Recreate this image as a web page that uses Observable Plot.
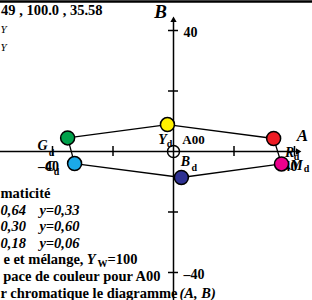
<!DOCTYPE html>
<html><head><meta charset="utf-8">
<script src="https://cdn.jsdelivr.net/npm/d3@7"></script>
<script src="https://cdn.jsdelivr.net/npm/@observablehq/plot@0.6"></script>
<style>body{margin:0;background:#fff;} svg{display:block} svg text{font-family:"Liberation Serif","Times New Roman","DejaVu Serif",serif !important;}</style>
</head><body><div id="chart"></div>
<script>
// ---- data ----
const names = ["G", "Y", "R", "M", "B", "C"];
const subs = ["d", "d", "d", "d", "d", "d"];
const aValues = [-35.0, -2.0, 33.1, 35.7, 2.6, -32.7];
const bValues = [4.5, 8.9, 4.3, -4.1, -8.6, -4.0];
const colors = ["#00a14b", "#fff000", "#ed1c24", "#ec008c", "#2e3192", "#1ba9e8"];
const axisTicks = [-40, -20, 20, 40];
const labeledTicks = [-40, 40];
const tickText = ["–40", "40"];
const originName = "A00";
const headerText = "49 , 100.0 , 35.58";
const headerY = ["Y", "Y"];
const chromaTitle = "maticité";
const xRows = ["0,64", "0,30", "0,18"];
const yRows = ["y=0,33", "y=0,60", "y=0,06"];
const mixText = "e et mélange,";
const spaceText = "pace de couleur pour A00";
const diagText = "r chromatique le diagramme";
const diagVars = "(A, B)";

// ---- layout ----
const W = 312, H = 300;
const xDom = [-57.19, 45.95], yDom = [-49.26, 49.92];
const aTip = 42.6, bTip = 44.96;
const idx = d3.range(names.length);
const font = "Liberation Serif";
const FS = 14.5;
const offsets = [
  {m: [-25, 7.5], s: [-16, 14.5]},
  {m: [-5, 15], s: [2, 19]},
  {m: [16, 14], s: [23, 18]},
  {m: [15, 2], s: [25, 5]},
  {m: [4, -16], s: [13, -10]},
  {m: [-25, 3], s: [-18, 8]}
];
const T = (o) => Object.assign({fontFamily: font, fontWeight: "bold", fontSize: 14, fill: "black"}, o);

const marks = [
  Plot.ruleY([yDom[1]], {stroke: "black", strokeWidth: 2.5, dy: 1}),
  Plot.ruleY([0], {x1: xDom[0], x2: aTip - 2, stroke: "black", strokeWidth: 1.5}),
  Plot.ruleX([0], {y1: yDom[0], y2: bTip - 2, stroke: "black", strokeWidth: 1.5}),
  Plot.dot([0], {x: aTip - 1.52, y: 0, symbol: "triangle2", r: 3, fill: "black", rotate: 90}),
  Plot.dot([0], {x: 0, y: bTip - 1.52, symbol: "triangle2", r: 3, fill: "black"}),
  Plot.ruleX(axisTicks, {x: d => d, y1: 0, y2: 0, insetTop: -5, insetBottom: -5, stroke: "black", strokeWidth: 1.5}),
  Plot.ruleY(axisTicks, {y: d => d, x1: 0, x2: 0, insetLeft: -5, insetRight: -5, stroke: "black", strokeWidth: 1.5}),
  Plot.text(labeledTicks, T({x: d => d, y: 0, text: (d, i) => tickText[i], dx: -4, dy: 15})),
  Plot.text(labeledTicks, T({x: 0, y: d => d, text: (d, i) => tickText[i], textAnchor: "start", dx: 10, dy: 2.5})),
  Plot.text(["B"], T({x: 0, y: bTip, text: d => d, fontStyle: "italic", fontSize: 19, dx: -13, dy: -4})),
  Plot.text(["A"], T({x: aTip, y: 0, text: d => d, fontStyle: "italic", fontSize: 17, dx: 0, dy: -16})),
  Plot.line(idx, {x: i => aValues[i], y: i => bValues[i], curve: "linear-closed", stroke: "black", strokeWidth: 1.3}),
  Plot.dot(idx, {x: i => aValues[i], y: i => bValues[i], r: 7, fill: i => colors[i], stroke: "black", strokeWidth: 1.5}),
  Plot.dot([0], {x: 0, y: 0, r: 6, fill: "none", stroke: "black", strokeWidth: 1.5}),
  Plot.text([originName], T({x: 0, y: 0, text: d => d, fontSize: 13, dx: 20, dy: -11.5})),
];
idx.forEach(i => {
  marks.push(Plot.text([names[i]], T({x: () => aValues[i], y: () => bValues[i], text: d => d, fontStyle: "italic", fontSize: 14, dx: offsets[i].m[0], dy: offsets[i].m[1]})));
  marks.push(Plot.text([subs[i]], T({x: () => aValues[i], y: () => bValues[i], text: d => d, fontSize: 10, dx: offsets[i].s[0], dy: offsets[i].s[1]})));
});
const FA = {frameAnchor: "top-left", lineAnchor: "bottom", fontSize: FS};
marks.push(Plot.text([headerText], T({...FA, text: d => d, textAnchor: "end", dx: 102, dy: 14})));
headerY.forEach((t, i) => {
  marks.push(Plot.text([t], T({...FA, text: d => d, textAnchor: "start", fontWeight: "normal", fontStyle: "italic", fontSize: 11, dx: 0, dy: 32 + i * 18})));
});
marks.push(Plot.text([chromaTitle], T({...FA, text: d => d, textAnchor: "start", dx: 0, dy: 197})));
xRows.forEach((t, i) => {
  marks.push(Plot.text([t], T({...FA, text: d => d, textAnchor: "start", fontStyle: "italic", dx: 0, dy: 214 + i * 16.6})));
  marks.push(Plot.text([yRows[i]], T({...FA, text: d => d, textAnchor: "end", fontStyle: "italic", dx: 79, dy: 214 + i * 16.6})));
});
marks.push(Plot.text([mixText], T({...FA, text: d => d, textAnchor: "end", dx: 83, dy: 263})));
marks.push(Plot.text(["Y"], T({...FA, text: d => d, textAnchor: "end", fontStyle: "italic", dx: 95, dy: 263})));
marks.push(Plot.text(["W"], T({...FA, text: d => d, textAnchor: "end", fontSize: 10, dx: 107, dy: 266})));
marks.push(Plot.text(["=100"], T({...FA, text: d => d, textAnchor: "end", dx: 137, dy: 263})));
marks.push(Plot.text([spaceText], T({...FA, text: d => d, textAnchor: "end", dx: 160, dy: 280})));
marks.push(Plot.text([diagText], T({...FA, text: d => d, textAnchor: "start", dx: 0, dy: 297})));
marks.push(Plot.text([diagVars], T({...FA, text: d => d, textAnchor: "start", fontStyle: "italic", dx: 179, dy: 297})));

const chart = Plot.plot({
  width: W, height: H, margin: 0,
  x: {domain: xDom, axis: null},
  y: {domain: yDom, axis: null},
  color: {type: "identity"},
  style: {background: "white", fontFamily: "'Liberation Serif', serif"},
  marks
});
document.getElementById("chart").append(chart);
</script>
</body></html>
